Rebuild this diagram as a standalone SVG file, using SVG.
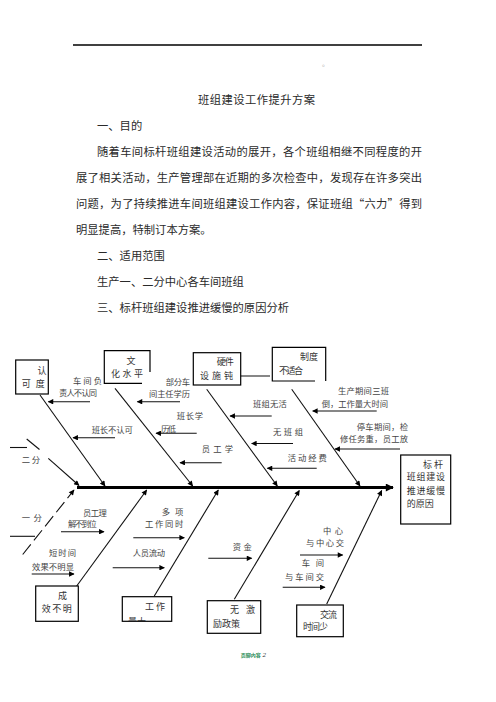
<svg xmlns="http://www.w3.org/2000/svg" width="496" height="702" viewBox="0 0 496 702">
<style>
text{font-family:"Liberation Serif","Noto Sans CJK SC",serif;}
.body{font-family:"Noto Sans CJK SC",sans-serif;font-size:11.3px;fill:#2a2a2a;}
.lb{font-family:"Noto Sans CJK SC",sans-serif;font-size:8.3px;fill:#444;}
.bx{font-family:"Noto Sans CJK SC",sans-serif;font-size:9px;fill:#333;}
.box{fill:#fff;stroke:#000;stroke-width:1.2;}
.edge{fill:none;stroke:#000;stroke-width:1.2;}
.bone{stroke:#111;stroke-width:1.1;fill:none;marker-end:url(#ah);}
.sub{stroke:#111;stroke-width:1.1;fill:none;marker-end:url(#ah);}
.ln{stroke:#111;stroke-width:1.1;fill:none;}
</style>
<defs>
<marker id="ah" viewBox="0 0 10 10" refX="9" refY="5" markerWidth="7" markerHeight="5.5" markerUnits="userSpaceOnUse" orient="auto"><path d="M0,0 L10,5 L0,10 z" fill="#000"/></marker>
<marker id="ahb" viewBox="0 0 10 10" refX="9" refY="5" markerWidth="10" markerHeight="8" markerUnits="userSpaceOnUse" orient="auto"><path d="M0,0 L10,5 L0,10 z" fill="#000"/></marker>
<clipPath id="clipGZ"><rect x="122.3" y="596.7" width="49.4" height="24.6"/></clipPath>
</defs>
<rect width="496" height="702" fill="#fff"/>

<g id="page-header">
<line x1="73" y1="45" x2="422" y2="45" stroke="#000" stroke-width="1.3"/>
<text x="322" y="66" style="font-size:7px;fill:#aaa;font-family:'Noto Sans CJK SC',sans-serif">。</text>
</g>

<g id="document-text">
<text class="body" x="198" y="104" textLength="117">班组建设工作提升方案</text>
<text class="body" x="97" y="130">一、目的</text>
<text class="body" x="97" y="156" textLength="325">随着车间标杆班组建设活动的展开，各个班组相继不同程度的开</text>
<text class="body" x="76" y="182" textLength="346">展了相关活动，生产管理部在近期的多次检查中，发现存在许多突出</text>
<text class="body" x="76" y="208" textLength="346">问题，为了持续推进车间班组建设工作内容，保证班组“六力”得到</text>
<text class="body" x="76" y="234">明显提高，特制订本方案。</text>
<text class="body" x="97" y="260">二、适用范围</text>
<text class="body" x="97" y="286">生产一、二分中心各车间班组</text>
<text class="body" x="97" y="312">三、标杆班组建设推进缓慢的原因分析</text>
</g>

<g id="connectors">
<!-- spine -->
<line x1="77" y1="487.5" x2="393" y2="487.5" stroke="#000" stroke-width="3" marker-end="url(#ahb)"/>
<!-- upper bones -->
<line class="bone" x1="40" y1="395" x2="105" y2="486"/>
<line class="bone" x1="115" y1="388.3" x2="192.7" y2="486"/>
<line class="bone" x1="206.7" y1="389.3" x2="277.3" y2="486"/>
<line class="bone" x1="291.7" y1="389.3" x2="360" y2="486"/>
<!-- 二分 bone -->
<line class="ln" x1="10" y1="447.5" x2="27" y2="447.5"/>
<line class="ln" x1="26.7" y1="439" x2="39.5" y2="449.5"/>
<line class="bone" x1="48.3" y1="458.3" x2="79" y2="485.5"/>
<!-- 一分 bone -->
<line class="ln" x1="10" y1="536.3" x2="35" y2="536.3"/>
<line class="bone" x1="22.7" y1="554.5" x2="74" y2="490" stroke-dasharray="13 5"/>
<!-- lower bones -->
<line class="bone" x1="76.7" y1="586" x2="146.7" y2="490"/>
<line class="bone" x1="154.3" y1="596" x2="218.3" y2="490"/>
<line class="bone" x1="234.3" y1="599.3" x2="299.3" y2="490.5"/>
<line class="bone" x1="326.7" y1="604" x2="381.7" y2="490.5"/>
<!-- upper sub arrows -->
<line class="sub" x1="90" y1="401.7" x2="48.3" y2="401.7"/>
<line class="sub" x1="115" y1="437.7" x2="73" y2="437.7"/>
<line class="sub" x1="180" y1="401.7" x2="137.3" y2="401.7"/>
<line class="sub" x1="196.7" y1="433.3" x2="156" y2="433.3"/>
<line class="sub" x1="221.7" y1="462.7" x2="180" y2="462.7"/>
<line class="sub" x1="270" y1="376" x2="228" y2="376"/>
<line class="sub" x1="271.7" y1="416" x2="230" y2="416"/>
<line class="sub" x1="293" y1="443.5" x2="251.7" y2="443.5"/>
<line class="sub" x1="316.7" y1="468.3" x2="267.3" y2="468.3"/>
<line class="sub" x1="376.7" y1="411" x2="312.7" y2="411"/>
<line class="sub" x1="400" y1="449" x2="335" y2="449"/>
<!-- lower sub arrows -->
<line class="sub" x1="61" y1="531.7" x2="104" y2="531.7"/>
<line class="sub" x1="31.7" y1="574" x2="74" y2="574"/>
<line class="sub" x1="133.3" y1="537.7" x2="184.3" y2="537.7"/>
<line class="sub" x1="112.7" y1="567.7" x2="164.3" y2="567.7"/>
<line class="sub" x1="208.3" y1="558.3" x2="251.7" y2="558.3"/>
<line class="sub" x1="300" y1="555" x2="342.7" y2="555"/>
<line class="sub" x1="282.7" y1="587.3" x2="325" y2="587.3"/>
</g>

<g id="node-renkedu">
<rect class="box" x="15.7" y="360" width="32.6" height="34"/>
<text class="bx" x="37.5" y="374">认</text>
<text class="bx" x="21.7" y="386.5" textLength="23">可 度</text>
</g>

<g id="node-wenhua">
<path class="edge" d="M142,383.3 H104.3 V350.7 H150 V372"/>
<text class="bx" x="126.5" y="364">文</text>
<text class="bx" x="111" y="376.5" textLength="32">化 水 平</text>
</g>

<g id="node-yingjian">
<rect class="box" x="193.3" y="352.7" width="47.4" height="32.3"/>
<text class="bx" x="216.7" y="365.3" textLength="17">硬件</text>
<text class="bx" x="200" y="378.5" textLength="33">设 施 钝</text>
</g>

<g id="node-zhidu">
<path class="edge" d="M315,381 H272.3 V347.3 H325.7 V381"/>
<text class="bx" x="300" y="360" textLength="18">制 度</text>
<text class="bx" x="279" y="374" textLength="24">不适合</text>
</g>

<g id="node-head">
<rect class="box" x="400.7" y="455" width="50" height="69"/>
<text class="bx" x="423" y="468.3" textLength="20">标 杆</text>
<text class="bx" x="406.7" y="480" textLength="38.3">班组建设</text>
<text class="bx" x="406.7" y="494.3" textLength="38.3">推进缓慢</text>
<text class="bx" x="406.7" y="506.6" textLength="27">的原因</text>
</g>

<g id="node-chengxiao">
<rect class="box" x="35.7" y="586" width="42.6" height="35.3"/>
<text class="bx" x="58" y="599.3">成</text>
<text class="bx" x="41.7" y="611.6" textLength="30">效 不 明</text>
</g>

<g id="node-gongzuo">
<rect class="box" x="122.3" y="596.7" width="49.4" height="24.6"/>
<text class="bx" x="145" y="610" textLength="20">工 作</text>
<text class="bx" x="128" y="625" clip-path="url(#clipGZ)">量大</text>
</g>

<g id="node-jili">
<rect class="box" x="207.3" y="600.7" width="53.4" height="32.6"/>
<text class="bx" x="230" y="613.3" textLength="25">无 激</text>
<text class="bx" x="213" y="626.6" textLength="27">励政策</text>
</g>

<g id="node-jiaoliu">
<rect class="box" x="296.7" y="605" width="46.6" height="31.7"/>
<text class="bx" x="320" y="617.6" textLength="17">交流</text>
<text class="bx" x="303" y="630" textLength="25">时间少</text>
</g>

<g id="labels">
<text class="lb" x="73" y="383.7" textLength="29">车 间 负</text>
<text class="lb" x="59" y="396.3" textLength="38">责人不认同</text>
<text class="lb" x="91.7" y="433" textLength="41">班长不认可</text>
<text class="lb" x="165.7" y="384.7" textLength="24.3">部分车</text>
<text class="lb" x="149" y="397.3" textLength="41">间主任学历</text>
<text class="lb" x="176.7" y="419" textLength="26.3">班长学</text>
<text class="lb" x="161" y="432" textLength="15">历低</text>
<text class="lb" x="201.7" y="452.3" textLength="31.3">员 工 学</text>
<text class="lb" x="253" y="407" textLength="33.7">班组无活</text>
<text class="lb" x="273" y="434.7" textLength="30">无 班 组</text>
<text class="lb" x="287.7" y="460.7" textLength="39">活动经费</text>
<text class="lb" x="338" y="394" textLength="51">生产期间三班</text>
<text class="lb" x="321.7" y="407" textLength="66.3">倒，工作量大时间</text>
<text class="lb" x="356.7" y="429.7" textLength="51.3">停车期间，检</text>
<text class="lb" x="340" y="442" textLength="68">修任务重，员工放</text>
<text class="lb" x="21.7" y="463" textLength="18.3">二 分</text>
<text class="lb" x="21.7" y="520.7" textLength="20">一 分</text>
<text class="lb" x="83" y="515.7" textLength="23.7">员工理</text>
<text class="lb" x="68" y="527.3" textLength="28.7">解不到位</text>
<text class="lb" x="49" y="556.3" textLength="27">短时间</text>
<text class="lb" x="32" y="570.3" textLength="42">效果不明显</text>
<text class="lb" x="161.7" y="514.7" textLength="21.6">多 项</text>
<text class="lb" x="145" y="527.3" textLength="38.3">工作同时</text>
<text class="lb" x="132.7" y="556.3" textLength="32.3">人员流动</text>
<text class="lb" x="232.7" y="549.7" textLength="19">资金</text>
<text class="lb" x="323" y="534" textLength="20">中 心</text>
<text class="lb" x="306" y="546.3" textLength="38">与中心交</text>
<text class="lb" x="301.7" y="566.3" textLength="22.3">车 间</text>
<text class="lb" x="285" y="579.7" textLength="39">与车间交</text>
</g>

<g id="footer">
<text x="240.7" y="657" style="font-family:'Noto Sans CJK SC',sans-serif;font-size:5px;font-weight:bold;fill:#1e8a52" textLength="20">页脚内容</text>
<text x="262.5" y="657" style="font-family:'Liberation Serif',serif;font-size:7px;font-style:italic;fill:#333">2</text>
</g>
</svg>
